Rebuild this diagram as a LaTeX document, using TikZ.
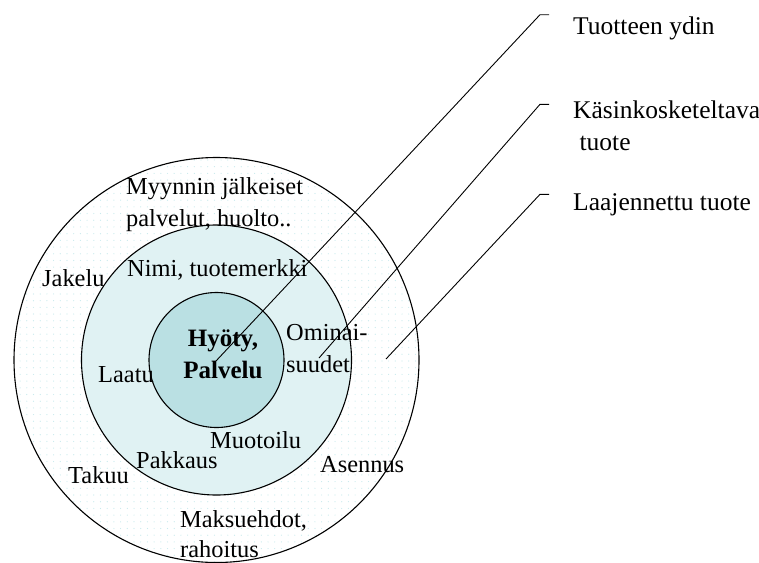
\documentclass[tikz,border=0pt]{standalone}
\usepackage{fontspec}
\setmainfont{Liberation Serif}
\usetikzlibrary{patterns.meta}
\definecolor{dotc}{RGB}{200,234,237}
\definecolor{midc}{RGB}{224,242,243}
\definecolor{corec}{RGB}{186,224,227}
\begin{document}
\begin{tikzpicture}[x=1pt,y=-1pt,
  ring/.style={circle, draw=black, line width=1.1pt, inner sep=0pt},
  lbl/.style={inner sep=0pt, font=\fontsize{24.4}{32}\selectfont, align=left},
  side/.style={inner sep=0pt, font=\fontsize{25.5}{32}\selectfont, align=left, anchor=west},
  leader/.style={draw=black, line width=0.9pt}]
\useasboundingbox (0,0) rectangle (759,562);
% rings
\node[ring, preaction={fill=white}, pattern={Dots[radius=0.6pt, distance=6.7pt]}, pattern color=dotc, minimum size=405pt] (outer) at (216.5,360) {};
\node[ring, fill=midc, minimum size=270pt] (middle) at (216.5,360) {};
\node[ring, fill=corec, minimum size=135pt] (core) at (216.5,360) {};
% texts in the rings
\node[lbl, anchor=west] (myynti) at (126,205) {Myynnin jälkeiset\\palvelut, huolto..};
\node[lbl, anchor=west] (jakelu) at (42,278) {Jakelu};
\node[lbl, anchor=west] (nimi) at (127,270) {Nimi, tuotemerkki};
\node[lbl, anchor=west] (omin) at (286,348.5) {Ominai-\\suudet};
\node[lbl, align=center, font=\fontsize{25}{32}\bfseries] (hyoty) at (223,354) {Hyöty,\\Palvelu};
\node[lbl, anchor=west] (laatu) at (98,375) {Laatu};
\node[lbl, anchor=west] (muoto) at (210,440) {Muotoilu};
\node[lbl, anchor=west] (pakk) at (136,460) {Pakkaus};
\node[lbl, anchor=west] (takuu) at (68,475) {Takuu};
\node[lbl, anchor=west] (asen) at (320,465) {Asennus};
\node[lbl, anchor=west, font=\fontsize{24.4}{30}\selectfont] (maksu) at (180,534) {Maksuehdot,\\rahoitus};
% side labels
\node[side] (ydin) at (573,28) {Tuotteen ydin};
\node[side] (kasin) at (573,126) {Käsinkosketeltava\\\ tuote};
\node[side] (laaj) at (573,205) {Laajennettu tuote};
% leader points
\coordinate (p1) at (216,361);
\coordinate (p2) at (319,358);
\coordinate (p3) at (386,359);
\coordinate (k1) at (540,14.7);
\coordinate (k2) at (540,104.3);
\coordinate (k3) at (540,194.3);
\coordinate (e1) at (549,14.7);
\coordinate (e2) at (549,104.3);
\coordinate (e3) at (549,194.3);
\draw[leader] (p1) -- (k1) -- (e1);
\draw[leader] (p2) -- (k2) -- (e2);
\draw[leader] (p3) -- (k3) -- (e3);
\end{tikzpicture}
\end{document}
